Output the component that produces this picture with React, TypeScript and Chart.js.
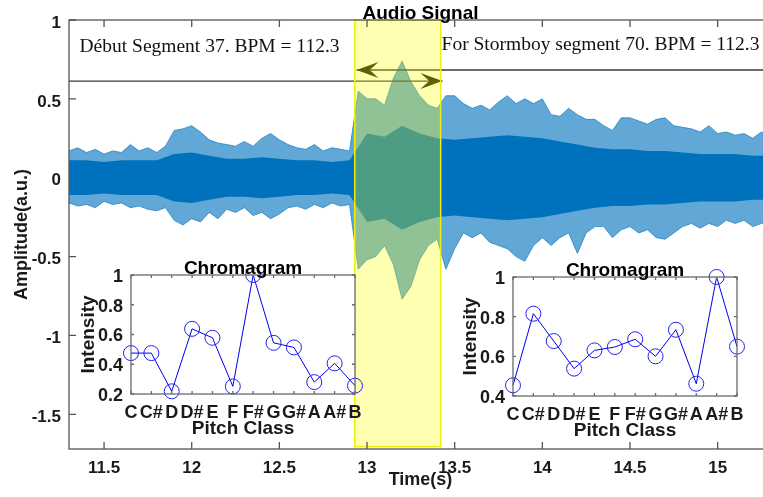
import React, { useEffect, useRef } from 'react';
import { Chart, registerables } from 'chart.js';

Chart.register(...registerables);

// ---------------- DATA ----------------
const xTicks = [11.5, 12, 12.5, 13, 13.5, 14, 14.5, 15];
const yTicks = [-1.5, -1, -0.5, 0, 0.5, 1];

// sample times of the peak envelope (s)
const times = [
  11.30, 11.35, 11.40, 11.45, 11.50, 11.55, 11.60, 11.65, 11.70, 11.75, 11.80, 11.85,
  11.90, 11.95, 12.00, 12.05, 12.10, 12.15, 12.20, 12.25, 12.30, 12.35, 12.40, 12.45,
  12.50, 12.55, 12.60, 12.65, 12.70, 12.75, 12.80, 12.85, 12.90, 12.95, 13.00, 13.05,
  13.10, 13.15, 13.20, 13.25, 13.30, 13.35, 13.40, 13.45, 13.50, 13.55, 13.60, 13.65,
  13.70, 13.75, 13.80, 13.85, 13.90, 13.95, 14.00, 14.05, 14.10, 14.15, 14.20, 14.25,
  14.30, 14.35, 14.40, 14.45, 14.50, 14.55, 14.60, 14.65, 14.70, 14.75, 14.80, 14.85,
  14.90, 14.95, 15.00, 15.05, 15.10, 15.15, 15.20, 15.25, 15.30,
];
// positive peaks of the audio signal (a.u.)
const peakUpper = [
  0.17, 0.19, 0.16, 0.18, 0.15, 0.17, 0.16, 0.21, 0.17, 0.19, 0.16, 0.20,
  0.30, 0.31, 0.33, 0.29, 0.24, 0.22, 0.21, 0.20, 0.23, 0.20, 0.25, 0.28,
  0.24, 0.21, 0.19, 0.18, 0.21, 0.17, 0.19, 0.18, 0.17, 0.55, 0.50, 0.50,
  0.46, 0.63, 0.74, 0.61, 0.52, 0.46, 0.44, 0.52, 0.52, 0.47, 0.44, 0.46,
  0.43, 0.48, 0.52, 0.47, 0.50, 0.47, 0.50, 0.40, 0.39, 0.44, 0.40, 0.37,
  0.37, 0.33, 0.30, 0.38, 0.38, 0.36, 0.34, 0.37, 0.38, 0.33, 0.32, 0.31,
  0.29, 0.33, 0.28, 0.29, 0.27, 0.28, 0.25, 0.29, 0.27,
];
// negative peaks of the audio signal (a.u.)
const peakLower = [
  -0.16, -0.18, -0.17, -0.19, -0.15, -0.17, -0.16, -0.19, -0.18, -0.20, -0.21, -0.19,
  -0.27, -0.30, -0.26, -0.28, -0.22, -0.26, -0.20, -0.22, -0.19, -0.24, -0.22, -0.26,
  -0.23, -0.19, -0.18, -0.20, -0.17, -0.19, -0.16, -0.18, -0.17, -0.58, -0.52, -0.50,
  -0.43, -0.55, -0.77, -0.69, -0.52, -0.43, -0.39, -0.58, -0.45, -0.35, -0.38, -0.35,
  -0.41, -0.43, -0.45, -0.50, -0.53, -0.43, -0.38, -0.43, -0.38, -0.35, -0.48, -0.35,
  -0.31, -0.31, -0.38, -0.33, -0.31, -0.35, -0.33, -0.38, -0.39, -0.35, -0.31, -0.29,
  -0.32, -0.29, -0.31, -0.27, -0.29, -0.27, -0.31, -0.29, -0.28,
];
// dense core of the signal (a.u.), every 0.1 s
const coreTimes = [
  11.3, 11.4, 11.5, 11.6, 11.7, 11.8, 11.9, 12.0, 12.1, 12.2, 12.3, 12.4, 12.5, 12.6,
  12.7, 12.8, 12.9, 13.0, 13.1, 13.2, 13.3, 13.4, 13.5, 13.6, 13.7, 13.8, 13.9, 14.0,
  14.1, 14.2, 14.3, 14.4, 14.5, 14.6, 14.7, 14.8, 14.9, 15.0, 15.1, 15.2, 15.3,
];
const coreAmp = [
  0.11, 0.11, 0.10, 0.11, 0.11, 0.11, 0.15, 0.16, 0.14, 0.12, 0.12, 0.13, 0.12, 0.11,
  0.11, 0.10, 0.11, 0.28, 0.26, 0.33, 0.28, 0.25, 0.24, 0.25, 0.26, 0.27, 0.26, 0.25,
  0.23, 0.21, 0.19, 0.18, 0.18, 0.17, 0.17, 0.16, 0.15, 0.15, 0.15, 0.14, 0.14,
];

const pitchClasses = ['C', 'C#', 'D', 'D#', 'E', 'F', 'F#', 'G', 'G#', 'A', 'A#', 'B'];
const chromaLeft = [0.475, 0.475, 0.218, 0.638, 0.578, 0.251, 1.0, 0.544, 0.513, 0.28, 0.406, 0.256];
const chromaRight = [0.454, 0.815, 0.677, 0.538, 0.630, 0.647, 0.686, 0.600, 0.734, 0.462, 1.0, 0.649];
const leftYTicks = [0.2, 0.4, 0.6, 0.8, 1];
const rightYTicks = [0.4, 0.6, 0.8, 1];

const X_MIN = 11.3;
const X_MAX = 15.31;
const Y_MIN = -1.72;
const Y_MAX = 1;

const highlight = { from: 12.93, to: 13.42, top: 1, bottom: -1.705 };
const arrowToRight = { from: 11.3, to: 13.43, y: 0.613 };
const arrowToLeft = { from: 12.94, to: 15.31, y: 0.683 };
const noteLeft = { text: 'Début Segment 37. BPM = 112.3', x: 11.36, y: 0.797 };
const noteRight = { text: 'For Stormboy segment 70. BPM = 112.3', x: 13.425, y: 0.808 };

// ---------------- STYLE ----------------
const SANS = '"Liberation Sans", Arial, Helvetica, sans-serif';
const SERIF = '"Liberation Serif", "Times New Roman", serif';
const BLUE = '#0072BD';
const HALO = 'rgba(0,114,189,0.62)';
const TXT = '#1a1a1a';
const AXIS = '#555555';

function drawArrow(ctx: any, x1: number, x2: number, yy: number, tipAtEnd: boolean) {
  ctx.strokeStyle = '#3a3a3a';
  ctx.lineWidth = 1.3;
  ctx.beginPath();
  ctx.moveTo(x1, yy);
  ctx.lineTo(x2, yy);
  ctx.stroke();
  const tip = tipAtEnd ? x2 : x1;
  const d = tipAtEnd ? -1 : 1;
  const L = 22, H = 8;
  ctx.fillStyle = '#1c1c00';
  ctx.beginPath();
  ctx.moveTo(tip, yy);
  ctx.lineTo(tip + d * L, yy - H);
  ctx.lineTo(tip + d * L * 0.6, yy);
  ctx.lineTo(tip + d * L, yy + H);
  ctx.closePath();
  ctx.fill();
}

const overlayPlugin = {
  id: 'overlay',
  afterDatasetsDraw(chart: any) {
    const { ctx, chartArea: a, scales } = chart;
    const x = scales.x, y = scales.y;
    ctx.save();
    ctx.beginPath();
    ctx.rect(a.left, a.top - 1, a.right - a.left, a.bottom - a.top + 2);
    ctx.clip();
    drawArrow(ctx, x.getPixelForValue(arrowToRight.from), x.getPixelForValue(arrowToRight.to), y.getPixelForValue(arrowToRight.y), true);
    drawArrow(ctx, x.getPixelForValue(arrowToLeft.from), x.getPixelForValue(arrowToLeft.to), y.getPixelForValue(arrowToLeft.y), false);
    const hx1 = x.getPixelForValue(highlight.from), hx2 = x.getPixelForValue(highlight.to);
    const hy1 = y.getPixelForValue(highlight.top), hy2 = y.getPixelForValue(highlight.bottom);
    ctx.fillStyle = 'rgba(255,255,0,0.3)';
    ctx.fillRect(hx1, hy1, hx2 - hx1, hy2 - hy1);
    ctx.strokeStyle = '#eeee10';
    ctx.lineWidth = 1.5;
    ctx.strokeRect(hx1, hy1, hx2 - hx1, hy2 - hy1);
    ctx.restore();

    ctx.save();
    ctx.strokeStyle = AXIS;
    ctx.lineWidth = 1.3;
    ctx.strokeRect(a.left, a.top, a.right - a.left, a.bottom - a.top);
    ctx.beginPath();
    xTicks.forEach((v) => {
      const px = x.getPixelForValue(v);
      ctx.moveTo(px, a.bottom); ctx.lineTo(px, a.bottom - 7);
      ctx.moveTo(px, a.top); ctx.lineTo(px, a.top + 7);
    });
    yTicks.forEach((v) => {
      const py = y.getPixelForValue(v);
      ctx.moveTo(a.left, py); ctx.lineTo(a.left + 7, py);
      ctx.moveTo(a.right, py); ctx.lineTo(a.right - 7, py);
    });
    ctx.stroke();

    ctx.fillStyle = '#111';
    ctx.font = `19.5px ${SERIF}`;
    ctx.textAlign = 'left';
    ctx.textBaseline = 'alphabetic';
    ctx.fillText(noteLeft.text, x.getPixelForValue(noteLeft.x), y.getPixelForValue(noteLeft.y));
    ctx.fillText(noteRight.text, x.getPixelForValue(noteRight.x), y.getPixelForValue(noteRight.y));

    ctx.fillStyle = '#000';
    ctx.font = `bold 19px ${SANS}`;
    ctx.textAlign = 'center';
    ctx.fillText('Audio Signal', (a.left + a.right) / 2, a.top - 1);
    ctx.restore();
  },
};

function makeMain(canvas: HTMLCanvasElement) {
  const haloUp = times.map((t, i) => ({ x: t, y: peakUpper[i] }));
  const haloDown = times.map((t, i) => ({ x: t, y: peakLower[i] }));
  const coreUp = coreTimes.map((t, i) => ({ x: t, y: coreAmp[i] }));
  const coreDown = coreTimes.map((t, i) => ({ x: t, y: -coreAmp[i] }));
  const tickFont = { family: SANS, size: 17, weight: 'bold' as const };
  const titleFont = { family: SANS, size: 18, weight: 'bold' as const };
  return new Chart(canvas, {
    type: 'line',
    data: {
      datasets: [
        { data: haloUp as any, borderWidth: 1, pointRadius: 0, backgroundColor: HALO, borderColor: HALO, fill: '+1', order: 3 } as any,
        { data: haloDown as any, borderWidth: 1, pointRadius: 0, borderColor: HALO, fill: false, order: 3 } as any,
        { data: coreUp as any, borderWidth: 0, pointRadius: 0, backgroundColor: BLUE, borderColor: BLUE, fill: '+1', order: 1 } as any,
        { data: coreDown as any, borderWidth: 0, pointRadius: 0, borderColor: BLUE, fill: false, order: 1 } as any,
      ],
    },
    options: {
      responsive: false,
      animation: false,
      events: [],
      layout: { padding: { top: 20, right: 28, left: 0, bottom: 0 } },
      plugins: { legend: { display: false }, tooltip: { enabled: false }, title: { display: false } },
      scales: {
        x: {
          type: 'linear', min: X_MIN, max: X_MAX, offset: false,
          grid: { display: false, drawTicks: false }, border: { display: false },
          afterBuildTicks: (s: any) => { s.ticks = xTicks.map((v) => ({ value: v })); },
          afterFit: (s: any) => { s.height = 48; },
          ticks: { padding: 9, color: TXT, font: tickFont, maxRotation: 0, autoSkip: false, callback: (v: any) => String(v) },
          title: { display: true, text: 'Time(s)', color: TXT, font: titleFont, padding: { top: 0, bottom: 6 } },
        },
        y: {
          type: 'linear', min: Y_MIN, max: Y_MAX,
          grid: { display: false, drawTicks: false }, border: { display: false },
          afterBuildTicks: (s: any) => { s.ticks = yTicks.map((v) => ({ value: v })); },
          afterFit: (s: any) => { s.width = 69; },
          ticks: { padding: 8, labelOffset: 3, color: TXT, font: tickFont, autoSkip: false, callback: (v: any) => String(v) },
          title: { display: true, text: 'Amplitude(a.u.)', color: TXT, font: titleFont, padding: { top: 11, bottom: 0 } },
        },
      },
    } as any,
    plugins: [overlayPlugin],
  });
}

function makeInset(canvas: HTMLCanvasElement, values: number[], ticks: number[]) {
  const framePlugin = {
    id: 'insetFrame',
    beforeDatasetsDraw(chart: any) {
      const { ctx, chartArea: a } = chart;
      ctx.save();
      ctx.fillStyle = '#fff';
      ctx.fillRect(a.left, a.top, a.right - a.left, a.bottom - a.top);
      ctx.restore();
    },
    afterDatasetsDraw(chart: any) {
      const { ctx, chartArea: a, scales } = chart;
      ctx.save();
      ctx.strokeStyle = '#6a6a6a';
      ctx.lineWidth = 1.3;
      ctx.strokeRect(a.left, a.top, a.right - a.left, a.bottom - a.top);
      ctx.beginPath();
      pitchClasses.forEach((_, i) => {
        const px = scales.x.getPixelForValue(i + 1);
        ctx.moveTo(px, a.bottom); ctx.lineTo(px, a.bottom - 3);
        ctx.moveTo(px, a.top); ctx.lineTo(px, a.top + 3);
      });
      ticks.forEach((v) => {
        const py = scales.y.getPixelForValue(v);
        ctx.moveTo(a.left, py); ctx.lineTo(a.left + 3, py);
        ctx.moveTo(a.right, py); ctx.lineTo(a.right - 3, py);
      });
      ctx.stroke();
      ctx.fillStyle = '#000';
      ctx.font = `bold 19px ${SANS}`;
      ctx.textAlign = 'center';
      ctx.textBaseline = 'alphabetic';
      ctx.fillText('Chromagram', (a.left + a.right) / 2, a.top - 1);
      ctx.restore();
    },
  };
  const tickFont = { family: SANS, size: 18, weight: 'bold' as const };
  const titleFont = { family: SANS, size: 19, weight: 'bold' as const };
  return new Chart(canvas, {
    type: 'line',
    data: {
      datasets: [{
        data: values.map((v, i) => ({ x: i + 1, y: v })) as any,
        borderColor: '#0000ee', borderWidth: 1, backgroundColor: 'transparent',
        pointStyle: 'circle', pointRadius: 7.5, pointBorderColor: '#2222ee', pointBorderWidth: 1,
        pointBackgroundColor: 'transparent', fill: false, clip: false as any, tension: 0,
      }],
    },
    options: {
      responsive: false,
      animation: false,
      events: [],
      layout: { padding: { top: 25, right: 15, left: 0, bottom: 0 } },
      plugins: { legend: { display: false }, tooltip: { enabled: false }, title: { display: false } },
      scales: {
        x: {
          type: 'linear', min: 1, max: 12,
          grid: { display: false, drawTicks: false }, border: { display: false },
          afterBuildTicks: (s: any) => { s.ticks = pitchClasses.map((_, i) => ({ value: i + 1 })); },
          afterFit: (s: any) => { s.height = 56; },
          ticks: { padding: 8, color: TXT, font: tickFont, maxRotation: 0, minRotation: 0, autoSkip: false, callback: (v: any) => pitchClasses[Math.round(v) - 1] },
          title: { display: true, text: 'Pitch Class', color: TXT, font: titleFont, padding: { top: 0, bottom: 10 } },
        },
        y: {
          type: 'linear', min: ticks[0], max: 1,
          grid: { display: false, drawTicks: false }, border: { display: false },
          afterBuildTicks: (s: any) => { s.ticks = ticks.map((v) => ({ value: v })); },
          afterFit: (s: any) => { s.width = 71; },
          ticks: { padding: 8, labelOffset: 2, color: TXT, font: tickFont, autoSkip: false, callback: (v: any) => String(Number(v.toFixed(1))) },
          title: { display: true, text: 'Intensity', color: TXT, font: titleFont, padding: { top: 17, bottom: 0 } },
        },
      },
    } as any,
    plugins: [framePlugin],
  });
}

export default function App() {
  const mainRef = useRef<HTMLCanvasElement>(null);
  const leftRef = useRef<HTMLCanvasElement>(null);
  const rightRef = useRef<HTMLCanvasElement>(null);
  useEffect(() => {
    const charts: Chart[] = [];
    if (mainRef.current) charts.push(makeMain(mainRef.current));
    if (leftRef.current) charts.push(makeInset(leftRef.current, chromaLeft, leftYTicks));
    if (rightRef.current) charts.push(makeInset(rightRef.current, chromaRight, rightYTicks));
    return () => charts.forEach((c) => c.destroy());
  }, []);
  return (
    <div style={{ position: 'fixed', left: 0, top: 0, width: 763, height: 497, overflow: 'hidden', background: '#fff' }}>
      <canvas ref={mainRef} width={800} height={497} style={{ position: 'absolute', left: 0, top: 0, display: 'block' }} />
      <canvas ref={leftRef} width={310} height={200} style={{ position: 'absolute', left: 60, top: 250, display: 'block' }} />
      <canvas ref={rightRef} width={310} height={200} style={{ position: 'absolute', left: 442, top: 252, display: 'block' }} />
    </div>
  );
}
